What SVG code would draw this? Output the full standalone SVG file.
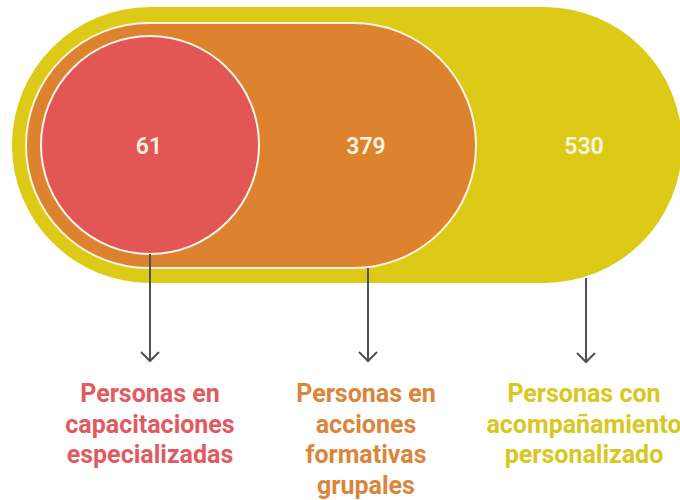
<svg xmlns="http://www.w3.org/2000/svg" width="680" height="500" viewBox="0 0 680 500">
  <defs>
    <style>
      .num { font-family: Roboto, "Liberation Sans", sans-serif; font-size: 23px; font-weight: 600; fill: #fdf4e0; text-anchor: middle; }
      .lbl { font-family: Roboto, "Liberation Sans", sans-serif; font-size: 25px; font-weight: 700; text-anchor: middle; }
      .conn { stroke: #505050; stroke-width: 2; fill: none; }
    </style>
    <marker id="arrow" viewBox="0 0 20 20" refX="18" refY="10" markerWidth="20" markerHeight="20" markerUnits="userSpaceOnUse" orient="auto">
      <path d="M9 1 L18 10 L9 19" fill="none" stroke="#505050" stroke-width="2"/>
    </marker>
  </defs>
  <rect width="680" height="500" fill="#ffffff"/>

  <g id="node-yellow">
    <rect x="12" y="7" width="670" height="276" rx="138" ry="138" fill="#dcca17"/>
    <text class="num" x="584" y="154">530</text>
  </g>

  <g id="node-orange">
    <rect x="26" y="23" width="450" height="245" rx="122.5" ry="122.5" fill="#dd822e" stroke="#fdf6e8" stroke-width="2"/>
    <text class="num" x="366" y="154">379</text>
  </g>

  <g id="node-red">
    <circle cx="150" cy="145" r="109" fill="#e35656" stroke="#fdf6e8" stroke-width="2"/>
    <text class="num" x="149" y="154">61</text>
  </g>

  <g id="connectors">
    <line class="conn" x1="150" y1="254" x2="150" y2="361" marker-end="url(#arrow)"/>
    <line class="conn" x1="368" y1="268" x2="368" y2="361" marker-end="url(#arrow)"/>
    <line class="conn" x1="586" y1="278" x2="586" y2="362" marker-end="url(#arrow)"/>
  </g>

  <g id="label-red">
    <text class="lbl" fill="#e05a62" x="150" y="402">Personas en</text>
    <text class="lbl" fill="#e05a62" x="150" y="432.5">capacitaciones</text>
    <text class="lbl" fill="#e05a62" x="150" y="463">especializadas</text>
  </g>

  <g id="label-orange">
    <text class="lbl" fill="#d9853a" x="366" y="402">Personas en</text>
    <text class="lbl" fill="#d9853a" x="366" y="432.5">acciones</text>
    <text class="lbl" fill="#d9853a" x="366" y="463">formativas</text>
    <text class="lbl" fill="#d9853a" x="366" y="493.5">grupales</text>
  </g>

  <g id="label-yellow">
    <text class="lbl" fill="#d8c71e" x="584" y="402">Personas con</text>
    <text class="lbl" fill="#d8c71e" x="584" y="432.5">acompañamiento</text>
    <text class="lbl" fill="#d8c71e" x="584" y="463">personalizado</text>
  </g>
</svg>
